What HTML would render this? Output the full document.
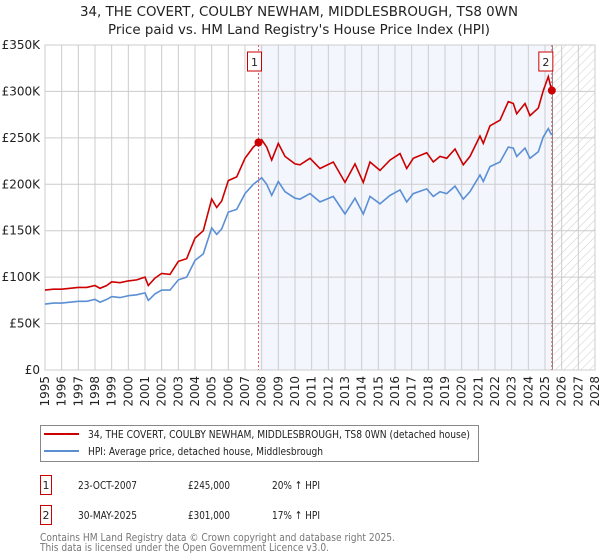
<!DOCTYPE html>
<html><head><meta charset="utf-8">
<style>
body{margin:0;background:#fff;font-family:"Liberation Sans","DejaVu Sans",sans-serif;}
#wrap{position:relative;width:600px;height:560px;overflow:hidden;}
svg text{font-family:"DejaVu Sans","Liberation Sans",sans-serif;}
</style></head>
<body><div id="wrap">
<svg id="chart" width="600" height="560"></svg>
</div>
<script>
const years=[1995,1995.5,1996,1996.5,1997,1997.5,1998,1998.3,1998.7,1999,1999.5,2000,2000.5,2001,2001.2,2001.6,2002,2002.5,2003,2003.5,2004,2004.5,2005,2005.3,2005.6,2006,2006.5,2007,2007.5,2008,2008.3,2008.6,2009,2009.4,2010,2010.3,2010.9,2011.5,2012.3,2013,2013.6,2014.1,2014.5,2015.1,2015.7,2016.3,2016.7,2017.1,2017.9,2018.3,2018.7,2019.1,2019.6,2020.1,2020.5,2021.1,2021.3,2021.7,2022.3,2022.8,2023.1,2023.3,2023.8,2024.1,2024.6,2024.9,2025.2,2025.4];
const hpiValues=[71,72,72,73,74,74,76,73,76,79,78,80,81,83,75,82,86,86,97,100,118,125,153,146,152,170,173,190,200,207,200,188,203,192,185,184,190,181,187,168,185,168,187,179,188,194,181,190,195,187,192,190,198,184,192,210,203,219,224,240,239,230,239,228,235,251,260,253];
const priceValues=[86,87,87,88,89,89,91,88,91,95,94,96,97,100,91,99,104,103,117,120,142,150,184,175,182,204,208,228,240,248,240,226,244,230,222,221,228,217,224,202,222,202,224,215,226,233,217,228,234,224,230,228,238,221,230,252,244,263,269,289,287,276,287,274,282,301,316,301];
const yTicks=[0,50,100,150,200,250,300,350];
const yTickLabels=["£0","£50K","£100K","£150K","£200K","£250K","£300K","£350K"];
const xTicks=[1995,1996,1997,1998,1999,2000,2001,2002,2003,2004,2005,2006,2007,2008,2009,2010,2011,2012,2013,2014,2015,2016,2017,2018,2019,2020,2021,2022,2023,2024,2025,2026,2027,2028];
const saleYears=[2007.81,2025.41];
const saleValues=[245,301];
const saleLabels=["1","2"];

const L=45,R=595,T=45,B=370;
const X=y=>L+(y-1995)/(2028-1995)*(R-L);
const Y=v=>B-v/350*(B-T);
const NS="http://www.w3.org/2000/svg";
const svg=document.getElementById('chart');
function mk(tag,at,parent){const e=document.createElementNS(NS,tag);for(const k in at)e.setAttribute(k,at[k]);(parent||svg).appendChild(e);return e;}
function fit(t,w){t.setAttribute('textLength',w);t.setAttribute('lengthAdjust','spacingAndGlyphs');}

const defs=mk('defs',{});
const pat=mk('pattern',{id:'hatch',width:6,height:6,patternUnits:'userSpaceOnUse',patternTransform:'rotate(45)'},defs);
mk('line',{x1:0,y1:0,x2:0,y2:6,stroke:'#ccc','stroke-width':1},pat);

const t1=mk('text',{x:80,y:16,'font-size':13,fill:'#222'});
t1.textContent="34, THE COVERT, COULBY NEWHAM, MIDDLESBROUGH, TS8 0WN";
fit(t1,438);


const t2=mk('text',{x:108,y:34,'font-size':13,fill:'#222'});
t2.textContent="Price paid vs. HM Land Registry's House Price Index (HPI)";
fit(t2,382);



const shade=mk('rect',{x:X(saleYears[0]),y:T,width:X(2025.45)-X(saleYears[0]),height:B-T,fill:'#eef2fc',opacity:0.7});


const hat=mk('rect',{x:X(2025.45),y:T,width:R-X(2025.45),height:B-T,fill:'url(#hatch)'});



xTicks.forEach(yr=>{
  const g=mk('line',{x1:X(yr),x2:X(yr),y1:T,y2:B,stroke:'#ccc','stroke-width':1});
  
  
  const tx=mk('text',{x:0,y:0,'font-size':12,fill:'#222','text-anchor':'end',transform:`translate(${X(yr)+4},${B+6}) rotate(-90)`});
  tx.textContent=yr;
  
  
});
yTicks.forEach((v,i)=>{
  const g=mk('line',{x1:L,x2:R,y1:Y(v),y2:Y(v),stroke:'#ccc','stroke-width':1});
  
  
  const tx=mk('text',{x:L-5,y:Y(v)+4,'font-size':12,fill:'#222','text-anchor':'end'});
  tx.textContent=yTickLabels[i];
  
  
});
const bl=mk('line',{x1:X(2025.45),x2:X(2025.45),y1:T,y2:B,stroke:'#888','stroke-width':1});


const frame=mk('rect',{x:L,y:T,width:R-L,height:B-T,fill:'none',stroke:'#ccc'});



saleYears.forEach((yr,i)=>{
  const l=mk('line',{x1:X(yr),x2:X(yr),y1:T,y2:B,stroke:'#e06060','stroke-width':1,'stroke-dasharray':'2,2'});
  
  
});

function path(vals){return vals.map((v,i)=>(i?'L':'M')+X(years[i]).toFixed(1)+','+Y(v).toFixed(1)).join('');}
const hp=mk('path',{d:path(hpiValues),fill:'none',stroke:'#5b8fd4','stroke-width':1.6});


const pp=mk('path',{d:path(priceValues),fill:'none',stroke:'#cc0000','stroke-width':1.6});



saleYears.forEach((yr,i)=>{
  const c=mk('circle',{cx:X(yr),cy:Y(saleValues[i]),r:4,fill:'#cc0000'});
  
  
  const bx=X(yr)-(i?6:4);
  const r=mk('rect',{x:bx-7,y:52,width:14,height:19,fill:'#fff',stroke:'#cc0000','stroke-width':1});
  
  
  const t=mk('text',{x:bx,y:66,'text-anchor':'middle','font-size':11,fill:'#222'});
  t.textContent=saleLabels[i];
  
  
});

const lg=mk('rect',{x:40.5,y:425.5,width:438,height:36,fill:'#fff',stroke:'#888'});


const l1=mk('line',{x1:44,x2:79,y1:434,y2:434,stroke:'#cc0000','stroke-width':2});


const lt1=mk('text',{x:88,y:438,'font-size':11,fill:'#222'});
lt1.textContent="34, THE COVERT, COULBY NEWHAM, MIDDLESBROUGH, TS8 0WN (detached house)";
fit(lt1,382);


const l2=mk('line',{x1:44,x2:79,y1:451,y2:451,stroke:'#5b8fd4','stroke-width':2});


const lt2=mk('text',{x:88,y:455,'font-size':11,fill:'#222'});
lt2.textContent="HPI: Average price, detached house, Middlesbrough";
fit(lt2,235);



const rows=[["1","23-OCT-2007","£245,000","20% ↑ HPI"],["2","30-MAY-2025","£301,000","17% ↑ HPI"]];
rows.forEach((r,i)=>{
  const y=475+i*30;
  const b=mk('rect',{x:40.5,y:y+0.5,width:11,height:19,fill:'#fff',stroke:'#cc0000'});
  
  
  [[46,r[0],'middle',0],[78,r[1],'start',59],[188,r[2],'start',42],[272,r[3],'start',48]].forEach(([x,s,a,w])=>{
    const t=mk('text',{x:x,y:y+14,'font-size':11,fill:'#222','text-anchor':a});
    t.textContent=s;
    if(w)fit(t,w);
    
    
  });
});
const f1=mk('text',{x:40,y:541,'font-size':11,fill:'#777'});
f1.textContent="Contains HM Land Registry data © Crown copyright and database right 2025.";
fit(f1,355);


const f2=mk('text',{x:40,y:551,'font-size':11,fill:'#777'});
f2.textContent="This data is licensed under the Open Government Licence v3.0.";
fit(f2,289);


</script>
</body></html>
